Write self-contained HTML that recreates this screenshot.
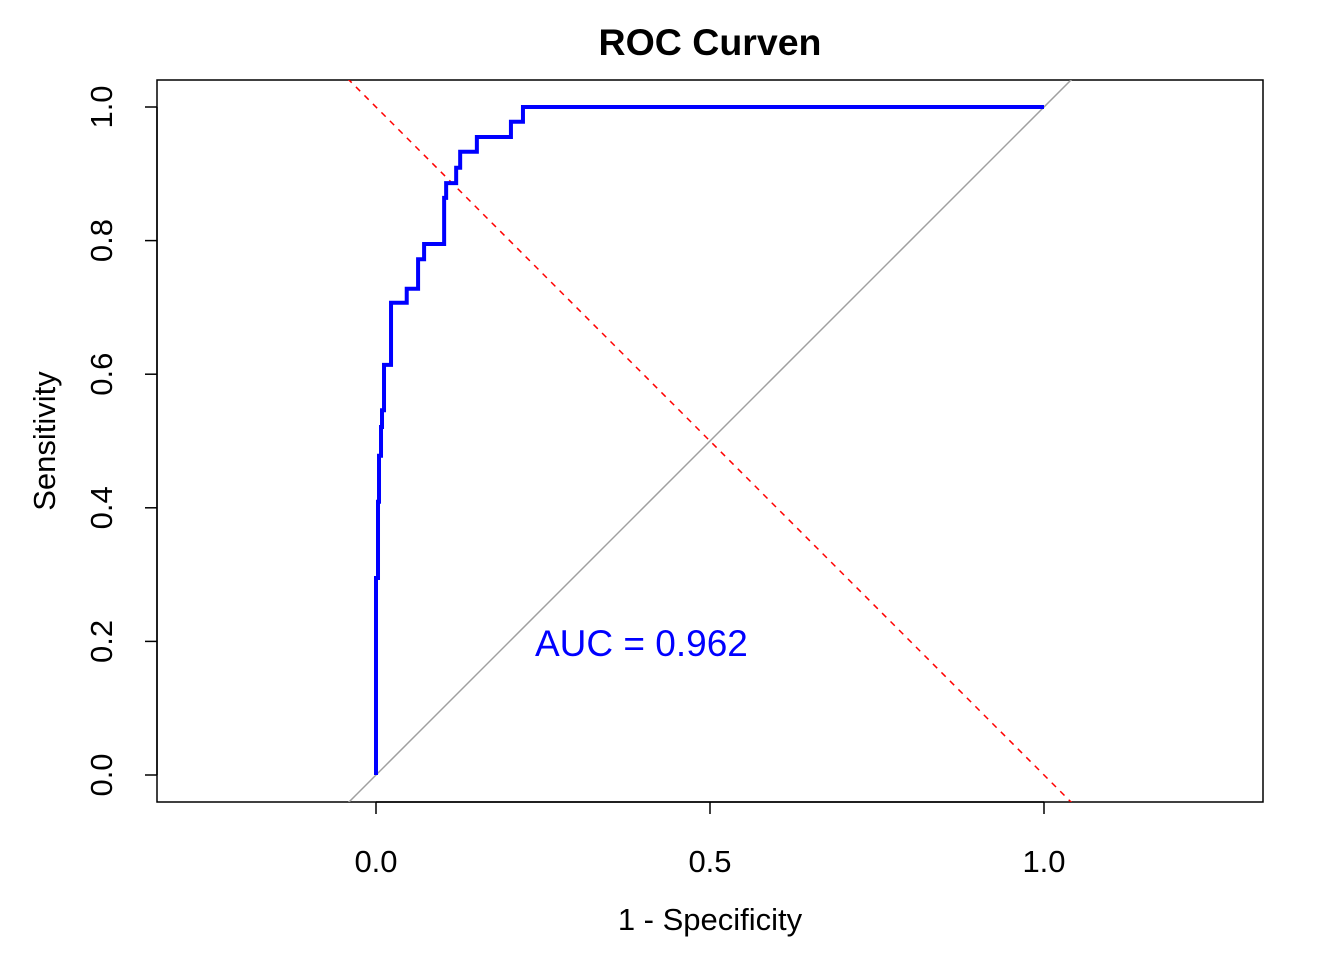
<!DOCTYPE html>
<html><head><meta charset="utf-8"><style>
html,body{margin:0;background:#fff;overflow:hidden;width:1344px;height:960px}
svg{display:block;font-family:"Liberation Sans",Arial,sans-serif}
</style></head><body>
<svg id="chart" width="1344" height="960" viewBox="0 0 1344 960">
<rect width="1344" height="960" fill="#fff"/>
<text x="710" y="55" text-anchor="middle" font-size="37.5" font-weight="bold">ROC Curven</text>
<rect x="157" y="80" width="1106" height="722" fill="none" stroke="#000" stroke-width="1.5"/>
<text x="710" y="930" text-anchor="middle" font-size="31">1 - Specificity</text>
<text transform="translate(55,441) rotate(-90)" text-anchor="middle" font-size="31">Sensitivity</text>
<g id="axes"></g>
<defs><clipPath id="clip"><rect x="157" y="80" width="1106" height="722"/></clipPath></defs>
<g id="marks" clip-path="url(#clip)"></g>
<text x="535" y="656" font-size="37" fill="#0000ff">AUC = 0.962</text>
</svg>
<script>
const fpr=[0,0,0.003,0.0045,0.0075,0.009,0.012,0.0225,0.046,0.063,0.072,0.102,0.105,0.12,0.126,0.151,0.202,0.22,1];
const tpr=[0,0.295,0.409,0.478,0.521,0.546,0.614,0.707,0.728,0.772,0.795,0.864,0.886,0.909,0.933,0.955,0.978,1,1];
const xTicks=[0,0.5,1];
const xTickLabels=["0.0","0.5","1.0"];
const yTicks=[0,0.2,0.4,0.6,0.8,1];
const yTickLabels=["0.0","0.2","0.4","0.6","0.8","1.0"];
const NS="http://www.w3.org/2000/svg";
const sx=v=>376+v*668, sy=v=>775-v*668;
const axes=document.getElementById('axes'), marks=document.getElementById('marks');
function mk(tag,at,parent){const e=document.createElementNS(NS,tag);for(const k in at)e.setAttribute(k,at[k]);parent.appendChild(e);return e;}
let l=mk('line',{x1:sx(xTicks[0]),x2:sx(xTicks[xTicks.length-1]),y1:802,y2:802,stroke:'#000','stroke-width':1.5},axes);


xTicks.forEach((v,i)=>{
 const t=mk('line',{x1:sx(v),x2:sx(v),y1:802,y2:814,stroke:'#000','stroke-width':1.5},axes);
 
 
 const tx=mk('text',{x:sx(v),y:872,'text-anchor':'middle','font-size':31},axes);
 tx.textContent=xTickLabels[i];
 
 
});
l=mk('line',{x1:157,x2:157,y1:sy(yTicks[0]),y2:sy(yTicks[yTicks.length-1]),stroke:'#000','stroke-width':1.5},axes);


yTicks.forEach((v,i)=>{
 const t=mk('line',{x1:145,x2:157,y1:sy(v),y2:sy(v),stroke:'#000','stroke-width':1.5},axes);
 
 
 const tx=mk('text',{transform:`translate(112,${sy(v)}) rotate(-90)`,'text-anchor':'middle','font-size':31},axes);
 tx.textContent=yTickLabels[i];
 
 
});
const g=mk('line',{x1:sx(-0.5),y1:sy(-0.5),x2:sx(1.5),y2:sy(1.5),stroke:'#a0a0a0','stroke-width':1.5},marks);


const r=mk('line',{x1:sx(-0.5),y1:sy(1.5),x2:sx(1.5),y2:sy(-0.5),stroke:'#ff0000','stroke-width':1.5,'stroke-dasharray':'6,6'},marks);


let d=`M${sx(fpr[0])},${sy(tpr[0])}`;
for(let i=1;i<fpr.length;i++){d+=` H${sx(fpr[i])} V${sy(tpr[i])}`;}
const p=mk('path',{d:d,fill:'none',stroke:'#0000ff','stroke-width':4},marks);


</script>
</body></html>
